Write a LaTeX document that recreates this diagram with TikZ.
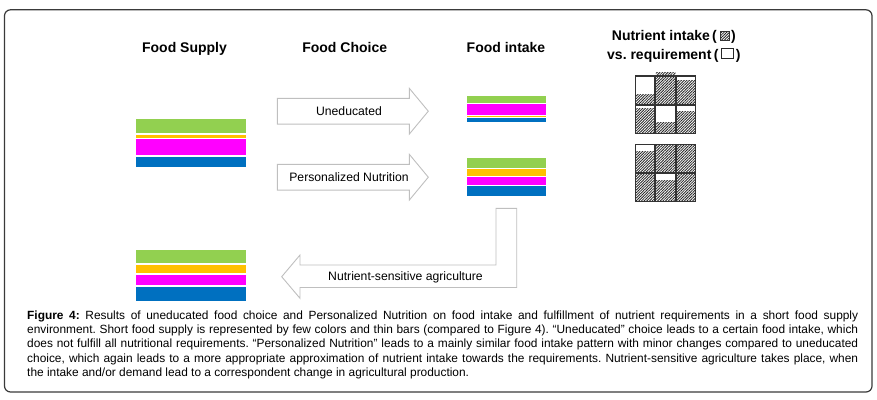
\documentclass[tikz,border=0pt]{standalone}
\usepackage{fontspec}
\setmainfont{Liberation Sans}
\usetikzlibrary{patterns.meta}
\definecolor{fgreen}{HTML}{92D050}
\definecolor{fyellow}{HTML}{FFC000}
\definecolor{fmag}{HTML}{FF00FF}
\definecolor{fblue}{HTML}{0070C0}
\definecolor{arrgray}{HTML}{BFBFBF}
\definecolor{frame}{HTML}{3A3A3A}
\newcommand\gcell[4]{%
  \fill[hatch] (#1,#4) rectangle (#1+19.5,#3);
  \draw[cellb] (#1,#2) rectangle (#1+19.5,#3);}
\frenchspacing
\begin{document}
\begin{tikzpicture}[x=1pt,y=-1pt,
  head/.style={font=\fontsize{14}{16}\selectfont\bfseries, inner sep=0pt},
  arrtext/.style={font=\fontsize{12.2}{14}\selectfont, inner sep=0pt},
  captext/.style={font=\fontsize{11.9}{14.25}\selectfont\frenchspacing, inner sep=0pt, anchor=base west},
  blockarrow/.style={draw=arrgray, line width=0.9pt, fill=white, line join=miter},
  hatch/.style={pattern={Lines[angle=45,distance=1.9pt,line width=0.85pt]}, pattern color=black!85},
  cellb/.style={draw=black!80, line width=1.3pt},
]
\useasboundingbox (0,0) rectangle (877,399);
% frame
\draw[frame, line width=1.2pt, rounded corners=6pt] (4.5,9.8) rectangle (872,392);

% headings
\node[head, anchor=base] (hsup) at (184.5,52.3) {Food Supply};
\node[head, anchor=base] (hcho) at (344.7,52.3) {Food Choice};
\node[head, anchor=base] (hint) at (506,52.3) {Food intake};
\node[head, anchor=base west] (hn1) at (611.7,40.7) {Nutrient intake\,(};
\node[hatch, draw=black!80, line width=0.8pt, minimum width=9pt, minimum height=8.5pt, inner sep=0pt, anchor=south west] (sym1) at ([xshift=2.5pt]hn1.base east) {};
\node[head, anchor=base west] (hn1c) at ([xshift=1.5pt]sym1.south east) {)};
\node[head, anchor=base west] (hn2) at (607,59.3) {vs. requirement\,(};
\node[draw=black!85, line width=1pt, minimum width=12pt, minimum height=10pt, inner sep=0pt, anchor=south west] (sym2) at ([xshift=2.5pt]hn2.base east) {};
\node[head, anchor=base west] (hn2c) at ([xshift=1.5pt]sym2.south east) {)};

% food supply bars
\fill[fgreen]  (136,119.3) rectangle (246,133.3);
\fill[fyellow] (136,135.3) rectangle (246,138);
\fill[fmag]    (136,139)   rectangle (246,155);
\fill[fblue]   (136,157)   rectangle (246,166.7);

% food intake 1
\fill[fgreen]  (467.3,95.7)  rectangle (546,103.3);
\fill[fmag]    (467.3,104.3) rectangle (546,115.4);
\fill[fyellow] (467.3,115.9) rectangle (546,117);
\fill[fblue]   (467.3,117.7) rectangle (546,122.3);

% food intake 2
\fill[fgreen]  (467.3,157.7) rectangle (546,167.7);
\fill[fyellow] (467.3,169.3) rectangle (546,175.7);
\fill[fmag]    (467.3,177)   rectangle (546,184.7);
\fill[fblue]   (467.3,186)   rectangle (546,195.7);

% bottom bars
\fill[fgreen]  (136,250)   rectangle (246,263.3);
\fill[fyellow] (136,265)   rectangle (246,272.7);
\fill[fmag]    (136,274.7) rectangle (246,285.3);
\fill[fblue]   (136,287)   rectangle (246,301);

% arrows
\draw[blockarrow] (277.3,98.3) -- (409.3,98.3) -- (409.3,88.3) -- (428.3,111.2)
  -- (409.3,134.1) -- (409.3,124.1) -- (277.3,124.1) -- cycle;
\node[arrtext] (tun) at (349,111.2) {Uneducated};
\draw[blockarrow] (277.3,164.3) -- (409.3,164.3) -- (409.3,154.3) -- (428.3,177.2)
  -- (409.3,200.1) -- (409.3,190.1) -- (277.3,190.1) -- cycle;
\node[arrtext] (tpn) at (349,177.2) {Personalized Nutrition};
\draw[blockarrow] (496,208.3) -- (516.7,208.3) -- (516.7,287.5) -- (300,287.5)
  -- (300,298.3) -- (281.7,276.7) -- (300,255) -- (300,265) -- (496,265) -- cycle;
\node[arrtext] (tnsa) at (405.5,277) {Nutrient-sensitive agriculture};

% nutrient grids
\gcell{635.5}{76}{104.3}{94}
\gcell{655.8}{76}{104.3}{72.7}
\gcell{676.1}{76}{104.3}{80.7}
\gcell{635.5}{105.7}{133.3}{108.3}
\gcell{655.8}{105.7}{133.3}{122.3}
\gcell{676.1}{105.7}{133.3}{111.7}
\gcell{635.5}{144.8}{172.2}{151.7}
\gcell{655.8}{144.8}{172.2}{144.8}
\gcell{676.1}{144.8}{172.2}{144.8}
\gcell{635.5}{173.7}{201.7}{173.7}
\gcell{655.8}{173.7}{201.7}{180}
\gcell{676.1}{173.7}{201.7}{173.7}

% caption
\node[captext] (cap1) at (27,319.3) {\makebox[831pt][s]{\textbf{Figure 4:} Results of uneducated food choice and Personalized Nutrition on food intake and fulfillment of nutrient requirements in a short food supply}};
\node[captext] (cap2) at (27,333.6) {\makebox[831pt][s]{environment. Short food supply is represented by few colors and thin bars (compared to Figure 4). “Uneducated” choice leads to a certain food intake, which}};
\node[captext] (cap3) at (27,347.9) {\makebox[831pt][s]{does not fulfill all nutritional requirements. “Personalized Nutrition” leads to a mainly similar food intake pattern with minor changes compared to uneducated}};
\node[captext] (cap4) at (27,362.1) {\makebox[831pt][s]{choice, which again leads to a more appropriate approximation of nutrient intake towards the requirements. Nutrient-sensitive agriculture takes place, when}};
\node[captext] (cap5) at (27,376.4) {the intake and/or demand lead to a correspondent change in agricultural production.};
\end{tikzpicture}
\end{document}
